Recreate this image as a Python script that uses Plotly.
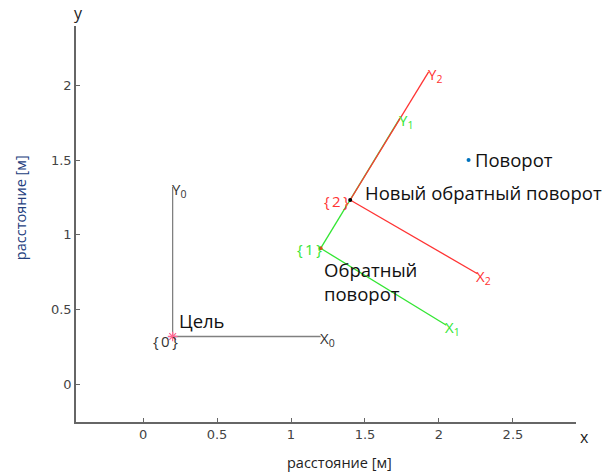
import plotly.graph_objects as go

# Frame data (origins and axis end points)
frame_names = ["0", "1", "2"]
frame_origin_x = [0.20, 1.20, 1.40]
frame_origin_y = [0.32, 0.91, 1.233]
frame_xend_x = [1.20, 2.05, 2.26]
frame_xend_y = [0.32, 0.395, 0.74]
frame_yend_x = [0.20, 1.736, 1.93]
frame_yend_y = [1.32, 1.781, 2.09]
frame_line_colors = ["#808080", "#33e633", "#ff3333"]
frame_text_colors = ["#333333", "#33e633", "#ff3333"]

# Named points
goal_xy = (0.20, 0.32)
back_xy = (1.20, 0.91)
newback_xy = (1.40, 1.233)
turn_xy = (2.20, 1.50)

x_ticks = [0, 0.5, 1, 1.5, 2, 2.5]
x_ticklabels = ["0", "0.5", "1", "1.5", "2", "2.5"]
y_ticks = [0, 0.5, 1, 1.5, 2]
y_ticklabels = ["0", "0.5", "1", "1.5", "2"]

fig = go.Figure()

for i in range(3):
    c = frame_line_colors[i]
    fig.add_trace(go.Scatter(x=[frame_origin_x[i], frame_xend_x[i]], y=[frame_origin_y[i], frame_xend_y[i]],
                             mode="lines", line=dict(color=c, width=1.3), hoverinfo="skip", showlegend=False))
    fig.add_trace(go.Scatter(x=[frame_origin_x[i], frame_yend_x[i]], y=[frame_origin_y[i], frame_yend_y[i]],
                             mode="lines", line=dict(color=c, width=1.3), hoverinfo="skip", showlegend=False))

fig.add_trace(go.Scatter(x=[goal_xy[0]], y=[goal_xy[1]], mode="markers",
                         marker=dict(symbol="asterisk-open", size=8, line=dict(color="#9a1a3a", width=1.3)),
                         showlegend=False))
fig.add_trace(go.Scatter(x=[back_xy[0]], y=[back_xy[1]], mode="markers",
                         marker=dict(symbol="circle", size=4, color="#d95319"), showlegend=False))
fig.add_trace(go.Scatter(x=[newback_xy[0]], y=[newback_xy[1]], mode="markers",
                         marker=dict(symbol="circle", size=4, color="#000000"), showlegend=False))
fig.add_trace(go.Scatter(x=[turn_xy[0]], y=[turn_xy[1]], mode="markers",
                         marker=dict(symbol="circle", size=4, color="#0072bd"), showlegend=False))

ann = []
lab_font = dict(family="Open Sans, DejaVu Sans", size=15)
ts = "\u2009"
origin_xshift = [7, 3, 1]
origin_yshift = [-5, -1, -1]
for i in range(3):
    col = frame_text_colors[i]
    n = frame_names[i]
    ann.append(dict(x=frame_xend_x[i], y=frame_xend_y[i], text="X<sub>%s</sub>" % n, showarrow=False,
                    xanchor="left", yanchor="middle", xshift=-3, yshift=-3, font=dict(lab_font, color=col)))
    ann.append(dict(x=frame_yend_x[i], y=frame_yend_y[i], text="Y<sub>%s</sub>" % n, showarrow=False,
                    xanchor="left", yanchor="middle", xshift=-3, yshift=-3, font=dict(lab_font, color=col)))
    ann.append(dict(x=frame_origin_x[i], y=frame_origin_y[i], text="{" + ts + n + ts + "}", showarrow=False,
                    xanchor="right", yanchor="middle", xshift=origin_xshift[i], yshift=origin_yshift[i],
                    font=dict(lab_font, color=col)))

big_font = dict(family="Open Sans, DejaVu Sans", size=18.5, color="#111111")
ann.append(dict(x=goal_xy[0], y=goal_xy[1], text="Цель", showarrow=False, xanchor="left", yanchor="middle",
                xshift=4, yshift=16, font=big_font))
ann.append(dict(x=turn_xy[0], y=turn_xy[1], text="Поворот", showarrow=False, xanchor="left", yanchor="middle",
                xshift=4, yshift=1, font=big_font))
ann.append(dict(x=newback_xy[0], y=newback_xy[1], text="Новый обратный поворот", showarrow=False,
                xanchor="left", yanchor="middle", xshift=13, yshift=8, font=big_font))
ann.append(dict(x=back_xy[0], y=back_xy[1], text="Обратный<br>поворот", showarrow=False,
                xanchor="left", yanchor="top", align="left", xshift=1, yshift=-7, font=big_font))

ann.append(dict(x=1.0, y=0, xref="paper", yref="paper", text="x", showarrow=False, xanchor="center",
                yanchor="middle", xshift=8, yshift=-15, font=dict(family="Open Sans", size=16, color="#222")))
ann.append(dict(x=0, y=1.0, xref="paper", yref="paper", text="y", showarrow=False, xanchor="center",
                yanchor="middle", xshift=2, yshift=13, font=dict(family="Open Sans", size=16, color="#222")))
ann.append(dict(x=0.526, y=0, xref="paper", yref="paper", text="расстояние [м]", showarrow=False,
                xanchor="center", yanchor="middle", yshift=-40, font=dict(family="Open Sans", size=14.5, color="#222")))
ann.append(dict(x=0, y=0.54, xref="paper", yref="paper", text="расстояние [м]", showarrow=False, textangle=-90,
                xanchor="center", yanchor="middle", xshift=-56, font=dict(family="Open Sans", size=14.5, color="#24407e")))

fig.update_layout(
    width=605, height=472,
    margin=dict(l=76, r=29, t=26, b=50),
    plot_bgcolor="white", paper_bgcolor="white",
    annotations=ann,
    xaxis=dict(range=[-0.453, 2.926], tickvals=x_ticks, ticktext=x_ticklabels, showgrid=False, zeroline=False,
               showline=True, linecolor="#666666", linewidth=1.5, ticks="inside", ticklen=4, tickcolor="#666666",
               tickfont=dict(family="DejaVu Sans", size=13, color="#444444")),
    yaxis=dict(range=[-0.252, 2.397], tickvals=y_ticks, ticktext=y_ticklabels, showgrid=False, zeroline=False,
               showline=True, linecolor="#666666", linewidth=1.5, ticks="inside", ticklen=4, tickcolor="#666666",
               tickfont=dict(family="DejaVu Sans", size=13, color="#444444")),
)

fig.write_html("out.html", config={"displayModeBar": False},
               post_script="document.body.style.margin='0';document.body.style.overflow='hidden';")
